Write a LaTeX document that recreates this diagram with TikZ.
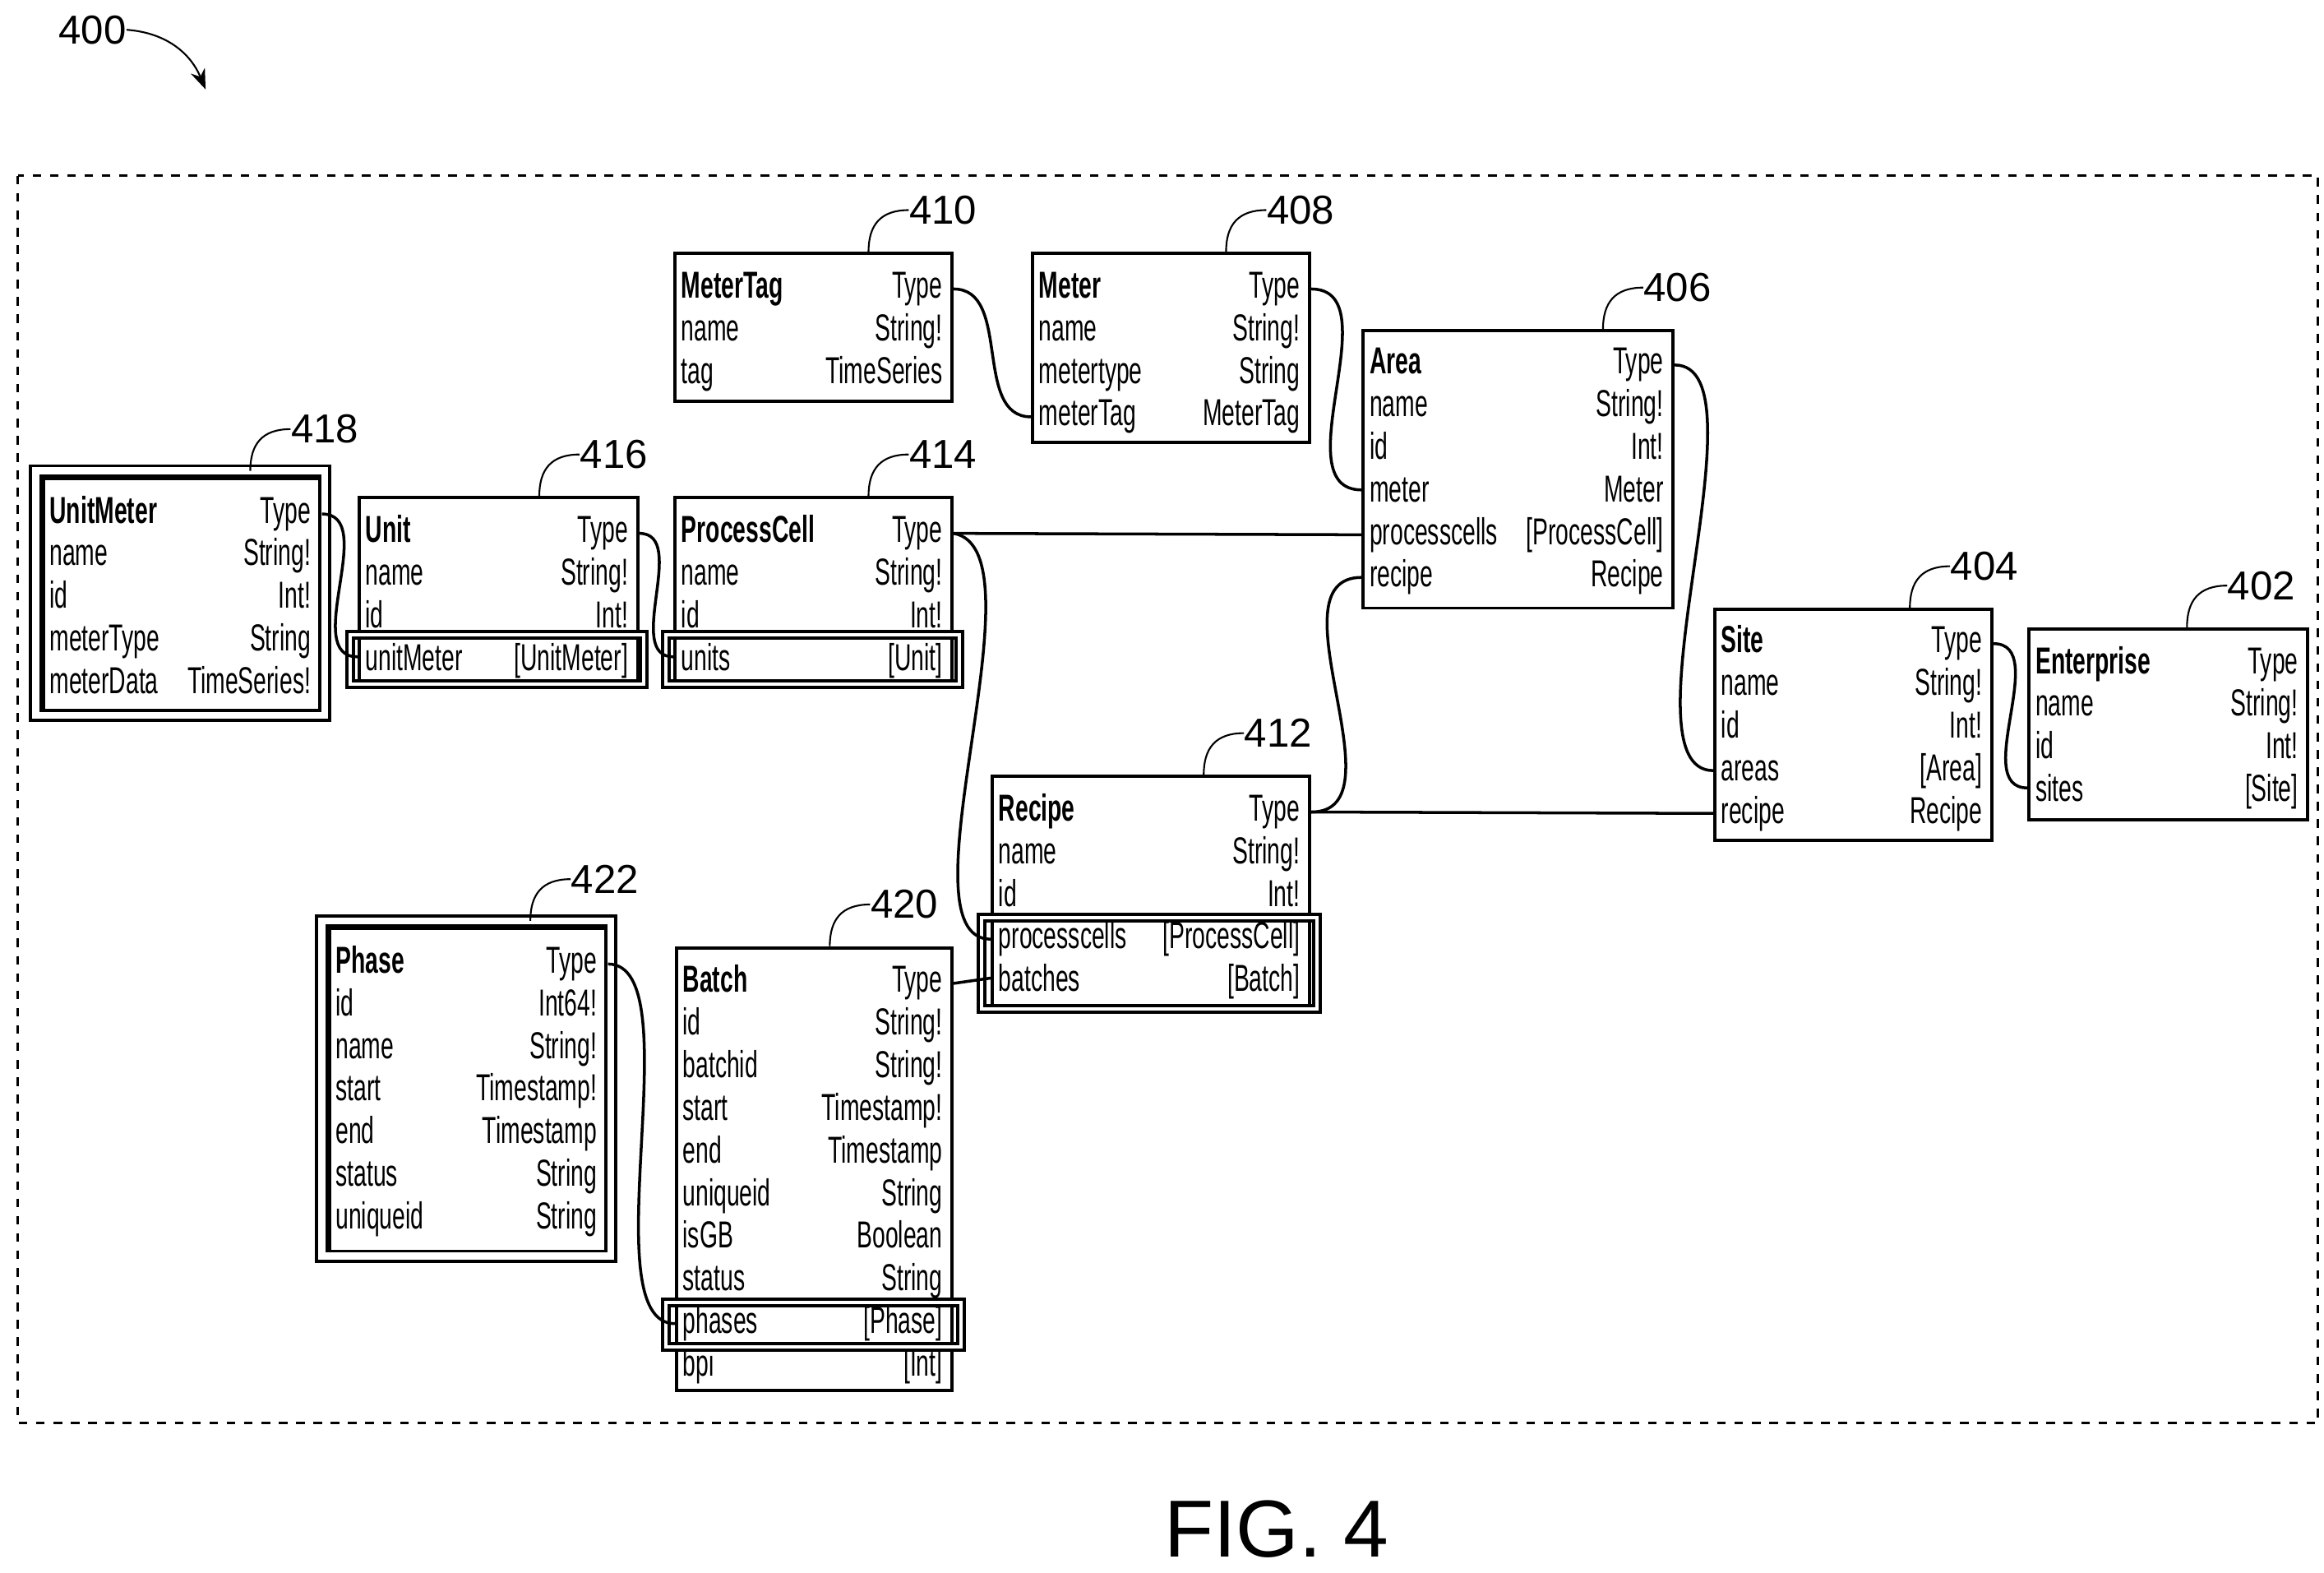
\documentclass[tikz,border=0pt]{standalone}
\usepackage{fontspec}
\setmainfont{Liberation Sans}[FakeStretch=0.62]
\newfontfamily\capfont{Liberation Sans}
\usepackage{tikz}
\usetikzlibrary{arrows.meta}

% one entity table: name, left, top, right, bottom, first baseline, rows
\newcommand{\entity}[7]{%
  \node (#1) [box, minimum width={(#4-#2)*0.01812cm}, minimum height={(#5-#3)*0.01812cm}, anchor=north west] at (#2,#3) {};
  \foreach \l/\r [count=\i] in {#7} {
    \node (#1-\i) [field, anchor=base west] at ({#2+5},{#6+(\i-1)*28.6}) {\l};
    \node (#1-\i r) [field, anchor=base east] at ({#4-5},{#6+(\i-1)*28.6}) {\r};
  }%
}
% reference numeral with its leader
\newcommand{\callout}[3]{%
  \node (n#3) [tag, anchor=west] at ({#1+27},{#2-28}) {#3};
  \draw [leader] (#1,#2) .. controls ({#1},{#2-18}) and ({#1+8},{#2-28}) .. (n#3.west);
}

\begin{document}
\begin{tikzpicture}[x=0.01812cm, y=-0.01812cm, font=\fontsize{13}{15}\selectfont]
  \tikzset{
    box/.style={rectangle, draw, line width=1.1pt, inner sep=0pt},
    field/.style={inner sep=0pt},
    tag/.style={inner sep=0pt, font=\capfont\fontsize{14}{16}\selectfont},
    leader/.style={line width=0.6pt},
    link/.style={line width=1pt},
    hl/.style={double, double distance=1.2pt, line width=1.1pt},
    dbl/.style={double, double distance=2.4pt, line width=1.1pt}
  }
  \useasboundingbox (0,0) rectangle (1560,1055.6);

  % frame and figure label
  \draw [dashed, line width=0.8pt] (12,118) rectangle (1556,955);
  \node (fig) [tag] at (62,20) {400};
  \draw [leader, -{Stealth[length=7pt]}] (fig.east) .. controls (112,22) and (128,36) .. (138,60);
  \node (caption) at (857,1026) {\capfont\fontsize{28}{30}\selectfont FIG. 4};

  % entities
  \entity{unitmeter}{28}{320}{214}{476}{351}{\textbf{UnitMeter}/Type, name/String!, id/Int!, meterType/String, meterData/TimeSeries!}
  \entity{unit}{240}{333}{427}{458}{364}{\textbf{Unit}/Type, name/String!, id/Int!, unitMeter/[UnitMeter]}
  \entity{pcell}{452}{333}{638}{458}{364}{\textbf{ProcessCell}/Type, name/String!, id/Int!, units/[Unit]}
  \entity{metertag}{452}{169}{638}{268}{200}{\textbf{MeterTag}/Type, name/String!, tag/TimeSeries}
  \entity{meter}{692}{169}{878}{296}{200}{\textbf{Meter}/Type, name/String!, metertype/String, meterTag/MeterTag}
  \entity{area}{914}{221}{1122}{407}{251}{\textbf{Area}/Type, name/String!, id/Int!, meter/Meter, processcells/[ProcessCell], recipe/Recipe}
  \entity{recipe}{665}{520}{878}{676}{551}{\textbf{Recipe}/Type, name/String!, id/Int!, processcells/[ProcessCell], batches/[Batch]}
  \entity{site}{1150}{408}{1336}{563}{438}{\textbf{Site}/Type, name/String!, id/Int!, areas/[Area], recipe/Recipe}
  \entity{enterprise}{1361}{421}{1548}{549}{452}{\textbf{Enterprise}/Type, name/String!, id/Int!, sites/[Site]}
  \entity{phase}{220}{622}{406}{840}{653}{\textbf{Phase}/Type, id/Int64!, name/String!, start/Timestamp!, end/Timestamp, status/String, uniqueid/String}
  \entity{batch}{453}{635}{638}{932}{666}{\textbf{Batch}/Type, id/String!, batchid/String!, start/Timestamp!, end/Timestamp, uniqueid/String, isGB/Boolean, status/String, phases/[Phase], bpi/[Int]}

  % double borders and highlighted fields
  \draw [dbl] (24,316) rectangle (218,480);
  \draw [dbl] (216,618) rectangle (410,843);
  \draw [hl] (235,426) rectangle (432,459);
  \draw [hl] (447,426) rectangle (644,459);
  \draw [hl] (659,616) rectangle (884,677);
  \draw [hl] (447,874) rectangle (645,904);

  % reference numerals
  \callout{168}{316}{418}
  \callout{362}{333}{416}
  \callout{583}{333}{414}
  \callout{583}{169}{410}
  \callout{823}{169}{408}
  \callout{1076}{221}{406}
  \callout{1282}{408}{404}
  \callout{1468}{421}{402}
  \callout{808}{520}{412}
  \callout{356}{618}{422}
  \callout{557}{635}{420}

  % connectors
  \draw [link] (unitmeter.east |- unitmeter-1r) to[out=0, in=180] (unit.west |- unit-4);
  \draw [link] (unit.east |- unit-1r) to[out=0, in=180] (pcell.west |- pcell-4);
  \draw [link] (pcell.east |- pcell-1r) -- (area.west |- area-5);
  \draw [link] (pcell.east |- pcell-1r) to[out=-10, in=180, looseness=0.6] (recipe.west |- recipe-4);
  \draw [link] (metertag.east |- metertag-1r) to[out=0, in=180] (meter.west |- meter-4);
  \draw [link] (meter.east |- meter-1r) to[out=0, in=180] (area.west |- area-4);
  \draw [link] (area.east |- area-1r) to[out=0, in=180, looseness=0.6] (site.west |- site-4);
  \draw [link] (recipe.east |- recipe-1r) -- (site.west |- site-5);
  \draw [link] (recipe.east |- recipe-1r) to[out=0, in=180] (area.west |- area-6);
  \draw [link] (site.east |- site-1r) to[out=0, in=180] (enterprise.west |- enterprise-4);
  \draw [link] (batch.east |- batch-1r) -- (recipe.west |- recipe-5);
  \draw [link] (phase.east |- phase-1r) to[out=0, in=180, looseness=0.6] (batch.west |- batch-9);
\end{tikzpicture}
\end{document}
